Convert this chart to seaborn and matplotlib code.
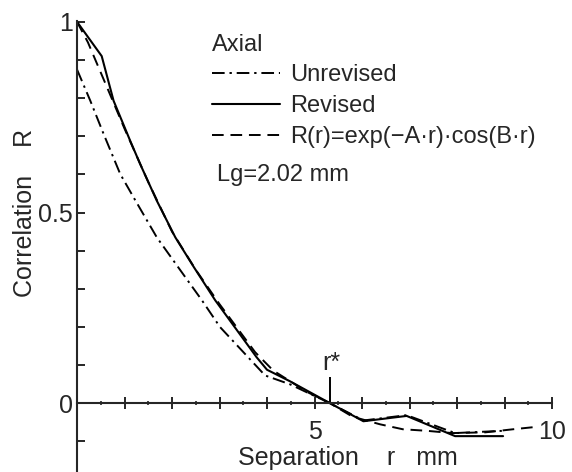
import matplotlib
matplotlib.use("Agg")
import pandas as pd
import matplotlib.pyplot as plt
from matplotlib.ticker import FixedLocator, FuncFormatter
import seaborn as sns

# Valores (separacao r em mm, correlacao R)
rNaoRevisado = [0, 0.28, 0.56, 0.91, 1.19, 1.68, 2.18, 2.63, 3.01, 3.96, 4.48, 5.33, 6.03, 6.94, 7.96, 8.97]
RNaoRevisado = [0.875, 0.793, 0.706, 0.601, 0.54, 0.435, 0.348, 0.27, 0.2, 0.073, 0.05, 0.0, -0.045, -0.031, -0.078, -0.072]

rRevisado = [0, 0.52, 0.77, 1.12, 1.33, 1.68, 2.07, 2.46, 2.91, 3.78, 4.0, 4.48, 5.33, 6.03, 6.94, 7.96, 8.97]
RRevisado = [1.0, 0.91, 0.793, 0.688, 0.627, 0.531, 0.435, 0.357, 0.27, 0.121, 0.088, 0.058, 0.0, -0.047, -0.033, -0.086, -0.086]

rAjuste = [0, 0.23, 0.66, 1.0, 1.5, 2.0, 2.5, 3.0, 3.75, 4.13, 4.84, 5.33, 5.8, 6.38, 6.86, 7.36, 7.9, 8.6, 9.18, 9.65]
RAjuste = [1.0, 0.946, 0.82, 0.72, 0.58, 0.45, 0.35, 0.26, 0.134, 0.086, 0.03, 0.0, -0.035, -0.055, -0.068, -0.072, -0.078, -0.076, -0.068, -0.062]

rEstrela = 5.33
alturaEstrela = 0.068

rotulos = ['Unrevised', 'Revised', 'R(r)=exp(\u2212A\u00b7r)\u00b7cos(B\u00b7r)']
ticksX = [1, 2, 3, 4, 5, 6, 7, 8, 9, 10]
ticksXMenores = [0.5, 1.5, 2.5, 3.5, 4.5, 5.5, 6.5, 7.5, 8.5, 9.5]
ticksY = [0, 0.5, 1]
ticksYMenores = [-0.1, 0.1, 0.2, 0.3, 0.4, 0.6, 0.7, 0.8, 0.9]

sns.set_style("ticks")
plt.rcParams['font.family'] = ['Liberation Sans', 'DejaVu Sans']
plt.rcParams['axes.linewidth'] = 1.5

fig = plt.figure(figsize=(5.72, 4.72), dpi=100)
ax = fig.add_axes([77 / 572, 0.0, 475 / 572, 451 / 472])

dfNao = pd.DataFrame({'r': rNaoRevisado, 'R': RNaoRevisado})
dfRev = pd.DataFrame({'r': rRevisado, 'R': RRevisado})
dfAju = pd.DataFrame({'r': rAjuste, 'R': RAjuste})

sns.lineplot(data=dfNao, x='r', y='R', ax=ax, color='black', lw=1.4, sort=False,
             estimator=None, linestyle=(0, (6.5, 2.5, 1.2, 2.5)), label=rotulos[0])
sns.lineplot(data=dfRev, x='r', y='R', ax=ax, color='black', lw=1.5, sort=False,
             estimator=None, linestyle='-', label=rotulos[1])
sns.lineplot(data=dfAju, x='r', y='R', ax=ax, color='black', lw=1.4, sort=False,
             estimator=None, linestyle=(0, (6, 3.5)), label=rotulos[2])

# marca r*
ax.vlines(rEstrela, 0, alturaEstrela, color='black', lw=1.4)
ax.text(rEstrela - 0.17, alturaEstrela + 0.005, 'r*', fontsize=18, ha='left', va='bottom')

ax.set_xlim(0, 10)
ax.set_ylim(-0.18, 1.002)

for lado in ['top', 'right']:
    ax.spines[lado].set_visible(False)
ax.spines['bottom'].set_position(('data', 0))
ax.spines['bottom'].set_bounds(0, 10)

ax.xaxis.set_major_locator(FixedLocator(ticksX))
ax.xaxis.set_minor_locator(FixedLocator(ticksXMenores))
ax.xaxis.set_major_formatter(FuncFormatter(lambda v, p: f'{v:g}' if v in (5, 10) else ''))
ax.yaxis.set_major_locator(FixedLocator(ticksY))
ax.yaxis.set_minor_locator(FixedLocator(ticksYMenores))
ax.yaxis.set_major_formatter(FuncFormatter(lambda v, p: f'{v:g}'))

ax.tick_params(axis='x', which='major', direction='inout', length=9, width=1.4, pad=7.5, labelsize=18)
ax.tick_params(axis='x', which='minor', direction='inout', length=3, width=1.2)
ax.tick_params(axis='y', which='both', direction='in', length=5.5, width=1.4, pad=3, labelsize=18)

ax.set_xlabel('Separation    r   mm', fontsize=18, va='top')
ax.xaxis.set_label_coords(0.57, 0.058)
ax.set_ylabel('Correlation    R', fontsize=18, va='bottom')
ax.yaxis.set_label_coords(-0.084, 0.574)

handles, labels = ax.get_legend_handles_labels()
leg = ax.legend(handles, labels, title='Axial', title_fontsize=17, fontsize=17, frameon=False,
                loc='upper left', bbox_to_anchor=(0.284, 0.972), borderpad=0, borderaxespad=0,
                handlelength=2.9, handletextpad=0.4, labelspacing=0.37, alignment='left')

ax.text(0.295, 0.684, 'Lg=2.02 mm', transform=ax.transAxes, fontsize=17, ha='left', va='top')

fig.savefig('out.png', dpi=100)
